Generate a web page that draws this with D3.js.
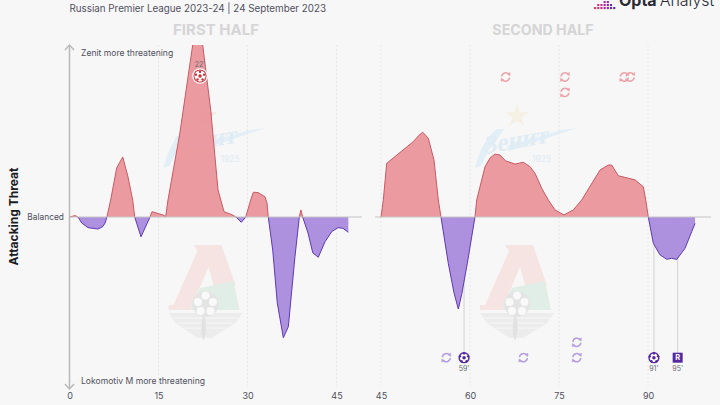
<!DOCTYPE html>
<html>
<head>
<meta charset="utf-8">
<script src="https://cdn.jsdelivr.net/npm/d3@7/dist/d3.min.js"></script>
<style>
  html, body { margin: 0; padding: 0; background: #f7f7f7; overflow: hidden; }
  text { font-family: "Inter", "Roboto", sans-serif; }
</style>
</head>
<body>
<svg width="720" height="405"></svg>
<script>
// Values. Threat: 0 is balanced, +/-100 is the edge of the plot
const firstMinutes = [0, 0.93, 1.43, 2.06, 3.12, 4.8, 5.6, 6.0, 6.3, 6.94, 7.95, 8.97, 9.86, 10.65, 10.99, 12.05, 13.57, 13.9, 15.93, 16.2, 16.6, 18.6, 20.76, 21.6, 22.45, 23.8, 25.03, 26.04, 27.39, 28.06, 28.96, 29.7, 30.54, 30.98, 31.77, 32.95, 33.29, 33.5, 34.25, 35.02, 36.04, 36.88, 38.0, 38.73, 39.0, 39.3, 40.2, 41.0, 41.93, 43.06, 44.2, 45.25, 46.1, 47.0];
const firstThreat = [0, 0.8, 0, -3.5, -6.2, -7, -5.6, -3.5, 0, 9.9, 28.5, 34.9, 23.3, 9.9, 0, -11.5, 0, 3.1, 1, 0, 9.9, 48.8, 100, 112, 100, 62.2, 15.7, 3.1, 1.3, 0, -3.1, 0, 9.9, 14.4, 14.2, 11.8, 8.1, 0, -19.2, -50, -70.2, -63.8, -23.1, 0, 4.1, 0, -9.3, -20.8, -23.4, -14.4, -8.5, -6.2, -6.6, -8.9];
const secondMinutes = [45, 45.39, 45.96, 50.44, 51.4, 52.03, 52.97, 53.93, 54.66, 55.11, 56.34, 57.3, 58.03, 58.6, 59.55, 60.84, 61.13, 62.53, 63.4, 64.21, 65.06, 66.02, 67.59, 68.99, 70.1, 70.96, 72.09, 73.2, 74.33, 75.84, 77.41, 78.83, 81.91, 83.31, 83.88, 84.99, 87.81, 89.21, 89.62, 90.05, 90.9, 92.02, 93.15, 93.99, 94.84, 96.24, 97.37, 97.93];
const secondThreat = [0, 9.9, 31.2, 43.8, 47.5, 49.3, 45.8, 33.1, 9.9, 0, -26.9, -44, -53.5, -45, -26.9, 0, 9.9, 29.2, 34.4, 36.6, 36, 32.6, 30.8, 31.8, 29.3, 25.4, 16.7, 9.9, 4.1, 1.2, 4.1, 9.9, 27.3, 30.2, 30.2, 24, 21.6, 17.6, 9.9, 0, -15.3, -22, -24.6, -24, -24.7, -18.2, -8.5, -3.7];

const firstTicks = [0, 15, 30, 45];
const secondTicks = [45, 60, 75, 90];

const zenitGoals = [22];
const lokoGoals = [59, 91];
const lokoReds = [95];
// [minute, row in the stack]
const zenitSubs = [[66, 0], [76, 0], [76, 1], [86, 0], [87, 0]];
const lokoSubs = [[56, 0], [69, 0], [78, 0], [78, 1]];

const RED = "#ea969c", RED_LINE = "#c85a64", RED_ICON = "#eba3a9", RED_BALL = "#c8323e";
const PURPLE = "#ab8ddd", PURPLE_LINE = "#5e39b4", PURPLE_ICON = "#b49ee0", PURPLE_DARK = "#55289f";
const TEXT = "#50505c";

const svg = d3.select("svg");
const y = d3.scaleLinear().domain([-100, 100]).range([389, 45]);
const xFirst = d3.scaleLinear().domain([0, 45]).range([69.5, 336.5]);
const xSecond = d3.scaleLinear().domain([45, 90]).range([381, 648]);
const baseY = y(0);

svg.append("rect").attr("width", 720).attr("height", 405).attr("fill", "#f7f7f7");

// Clips so each side of the balanced line gets its own colour
const defs = svg.append("defs");
defs.append("clipPath").attr("id", "above").append("rect")
  .attr("x", 0).attr("y", y(100)).attr("width", 720).attr("height", baseY - y(100));
defs.append("clipPath").attr("id", "below").append("rect")
  .attr("x", 0).attr("y", baseY).attr("width", 720).attr("height", y(-100) - baseY);

// --- watermarks ---
function zenitLogo(cx, starColor) {
  const g = svg.append("g").attr("transform", "translate(" + cx + ",0)");
  const star = d3.symbol().type(d3.symbolStar).size(170)();
  g.append("path").attr("d", star).attr("transform", "translate(0,116)").attr("fill", starColor);
  // swoosh and the tail of the script
  g.append("path")
    .attr("d", "M-42,168 C-38,152 -32,138 -20,129 L-12,129 C-22,140 -30,152 -36,166 Z M-8,151 L60,128 L44,130 L-10,146 Z")
    .attr("fill", "#e3eff6");
  g.append("text").attr("transform", "translate(-33,154) rotate(-10) skewX(-14)")
    .attr("font-size", 25).attr("font-weight", 700)
    .style("font-family", '"Liberation Serif", serif')
    .attr("fill", "#dfecf5").text("Зенит");
  g.append("text").attr("x", 15).attr("y", 162).attr("font-size", 8.5).attr("fill", "#dfeaf1").text("1925");
}

function lokoLogo(cx) {
  const g = svg.append("g").attr("transform", "translate(" + cx + ",245)");
  // red letter
  g.append("path").attr("d", "M-12,0 H16 L30,40 L8,40 L3,22 L-14,62 V65 H-37 V60 H-32 L-8,6 Z").attr("fill", "#f5e4e2");
  // green block
  g.append("path").attr("d", "M-14,58 L-5,43 L28,36 L34,65 H-14 Z").attr("fill", "#e0eee7");
  // wings
  g.append("path").attr("d", "M-37,68 H37 L30,78 L6,93 H-8 L-30,78 Z").attr("fill", "#ececec");
  [73, 78, 83].forEach(function(wy, i) {
    g.append("path").attr("d", "M" + (-33 + i * 6) + "," + wy + " H" + (33 - i * 6))
      .attr("stroke", "#f7f7f7").attr("stroke-width", 1);
  });
  g.append("path").attr("d", "M-2,68 C-5,80 -5,90 -2,96 C1,88 2,78 -2,68 Z").attr("fill", "#e2e2e2");
  // ball
  g.append("circle").attr("cx", 0).attr("cy", 59).attr("r", 13).attr("fill", "#e4e4e4");
  [[0, 50.5], [-7.5, 57], [7.5, 57], [-5, 66], [5, 66]].forEach(function(p) {
    g.append("circle").attr("cx", p[0]).attr("cy", p[1]).attr("r", 4).attr("fill", "#f9f9f9");
  });
}

zenitLogo(205.5, "#f6e6dc");
zenitLogo(517, "#f4f0e3");
lokoLogo(205.5);
lokoLogo(517);

// --- headers ---
svg.append("text").attr("x", 69.5).attr("y", 12).attr("font-size", 9.8).attr("fill", TEXT)
  .text("Russian Premier League 2023-24 | 24 September 2023");
svg.append("text").attr("x", 216).attr("y", 35).attr("text-anchor", "middle")
  .attr("font-size", 15).attr("font-weight", 700).attr("fill", "#d5d5d6").text("FIRST HALF");
svg.append("text").attr("x", 543).attr("y", 35).attr("text-anchor", "middle")
  .attr("font-size", 14.2).attr("font-weight", 700).attr("fill", "#d5d5d6").text("SECOND HALF");

// Opta mark, cut by the top of the frame as in the original
const dotColors = ["#e8385a", "#d93070", "#c22c8a", "#a52a9c", "#8a2aa8", "#6c2aaa", "#5a25a0"];
[[0, 3, 5], [1, 1, 6], [2, 0, 7]].forEach(function(row) {
  for (let i = row[1]; i < row[2]; i++) {
    svg.append("rect").attr("x", 594 + i * 3.2).attr("y", 1 + row[0] * 3)
      .attr("width", 2.1).attr("height", 2.1).attr("fill", dotColors[i]);
  }
});
const brand = svg.append("text").attr("x", 619).attr("y", 5.5).attr("font-size", 16).attr("fill", "#2a2a34");
brand.append("tspan").attr("font-weight", 700).text("Opta");
brand.append("tspan").attr("font-weight", 300).attr("dx", 3).text("Analyst");

// --- axis furniture ---
svg.append("text").attr("transform", "translate(18,216.5) rotate(-90)").attr("text-anchor", "middle")
  .attr("font-size", 12).attr("font-weight", 700).attr("fill", "#1c1c22").text("Attacking Threat");
svg.append("text").attr("x", 64).attr("y", 220).attr("text-anchor", "end")
  .attr("font-size", 8.4).attr("fill", TEXT).text("Balanced");
svg.append("text").attr("x", 81).attr("y", 56).attr("font-size", 8.6).attr("fill", TEXT)
  .text("Zenit more threatening");
svg.append("text").attr("x", 81).attr("y", 384).attr("font-size", 8.6).attr("fill", TEXT)
  .text("Lokomotiv M more threatening");

function drawHalf(x, minutes, threat, ticks, lineStart, lineEnd) {
  const rows = minutes.map(function(m, i) { return { m: m, v: threat[i] }; });

  // dotted minute guides
  svg.append("g").selectAll("line").data(ticks).join("line")
    .attr("x1", x).attr("x2", x).attr("y1", 45).attr("y2", 386)
    .attr("stroke", "#e2e2e2").attr("stroke-dasharray", "1.5,2.5");

  const axis = svg.append("g").attr("transform", "translate(0,392.5)")
    .call(d3.axisBottom(x).tickValues(ticks).tickSize(0).tickPadding(0).tickFormat(d3.format("d")));
  axis.select(".domain").remove();
  axis.selectAll("text").attr("font-size", 9).attr("fill", TEXT)
    .style("font-family", '"Inter", "Roboto", sans-serif');

  return { rows: rows, x: x, lineStart: lineStart, lineEnd: lineEnd };
}

function drawCurves(half) {
  const area = d3.area().x(function(d) { return half.x(d.m); }).y0(baseY)
    .y1(function(d) { return y(d.v); });
  const line = d3.line().x(function(d) { return half.x(d.m); })
    .y(function(d) { return y(d.v); });

  [["above", RED, RED_LINE], ["below", PURPLE, PURPLE_LINE]].forEach(function(s) {
    const g = svg.append("g").attr("clip-path", "url(#" + s[0] + ")");
    g.append("path").datum(half.rows).attr("d", area).attr("fill", s[1]).attr("fill-opacity", 0.96);
    g.append("path").datum(half.rows).attr("d", line).attr("fill", "none")
      .attr("stroke", s[2]).attr("stroke-width", 1);
  });

  svg.append("line").attr("x1", half.lineStart).attr("x2", half.lineEnd)
    .attr("y1", baseY).attr("y2", baseY).attr("stroke", "#c4c4c4").attr("stroke-width", 1);
}

// --- event icons ---
function subIcon(cx, cy, color) {
  const g = svg.append("g").attr("transform", "translate(" + cx + "," + cy + ")")
    .attr("fill", "none").attr("stroke", color).attr("stroke-width", 1.5);
  g.append("path").attr("d", "M-4,-0.5 A4.2,4.2 0 0 1 3.4,-2.6");
  g.append("path").attr("d", "M4,0.5 A4.2,4.2 0 0 1 -3.4,2.6");
  g.append("path").attr("d", "M1.6,-3 L4.4,-1.2 L4.6,-4.4 Z").attr("fill", color).attr("stroke-width", 0.5);
  g.append("path").attr("d", "M-1.6,3 L-4.4,1.2 L-4.6,4.4 Z").attr("fill", color).attr("stroke-width", 0.5);
}

function ballIcon(cx, cy, color, ring) {
  const g = svg.append("g").attr("transform", "translate(" + cx + "," + cy + ")");
  if (ring) g.append("circle").attr("r", 7.2).attr("fill", color).attr("stroke", "#fff").attr("stroke-width", 1.3);
  g.append("circle").attr("r", 5.6).attr("fill", ring ? "#fff" : color);
  g.append("circle").attr("r", 4.2).attr("fill", "#fff");
  g.append("path").attr("d", d3.symbol().type(d3.symbolCircle).size(10)()).attr("fill", color);
  d3.range(5).forEach(function(i) {
    const a = -Math.PI / 2 + i * 2 * Math.PI / 5;
    g.append("circle").attr("cx", 4.3 * Math.cos(a)).attr("cy", 4.3 * Math.sin(a)).attr("r", 1.2).attr("fill", color);
  });
}

function redIcon(cx, cy, color) {
  svg.append("rect").attr("x", cx - 5).attr("y", cy - 5).attr("width", 10).attr("height", 10).attr("fill", color);
  svg.append("text").attr("x", cx).attr("y", cy + 2.7).attr("text-anchor", "middle")
    .attr("font-size", 7.5).attr("font-weight", 700).attr("fill", "#fff").text("R");
}

function eventLabel(cx, cy, minute) {
  svg.append("text").attr("x", cx).attr("y", cy).attr("text-anchor", "middle")
    .attr("font-size", 7).attr("fill", "#6a6a72").text(minute + "'");
}

const ZENIT_ROW = 77, LOKO_ROW = 357.7, ROW_GAP = 15.4;

const first = drawHalf(xFirst, firstMinutes, firstThreat, firstTicks.slice(), 69.5, 362);
const second = drawHalf(xSecond, secondMinutes, secondThreat, secondTicks, 375, 711);

// drop lines go under the areas, so they seem to start at the curve
lokoGoals.concat(lokoReds).forEach(function(m) {
  svg.append("line").attr("x1", xSecond(m)).attr("x2", xSecond(m)).attr("y1", baseY).attr("y2", LOKO_ROW)
    .attr("stroke", "#d2d2d4").attr("stroke-width", 1);
});

drawCurves(first);
drawCurves(second);

// arrow on the threat axis
const arrow = svg.append("g").attr("fill", "none").attr("stroke", "#b9b9b9").attr("stroke-width", 1.5);
arrow.append("line").attr("x1", xFirst(0)).attr("x2", xFirst(0)).attr("y1", y(100)).attr("y2", 389);
arrow.append("path").attr("d", "M65,50 L69.5,45 L74,50");
arrow.append("path").attr("d", "M65,384 L69.5,389 L74,384");

zenitGoals.forEach(function(m) {
  ballIcon(xFirst(m), 76, RED_BALL, true);
  eventLabel(xFirst(m), 67, m);
});
zenitSubs.forEach(function(s) { subIcon(xSecond(s[0]), ZENIT_ROW + s[1] * ROW_GAP, RED_ICON); });
lokoSubs.forEach(function(s) { subIcon(xSecond(s[0]), LOKO_ROW - s[1] * ROW_GAP, PURPLE_ICON); });
lokoGoals.forEach(function(m) {
  ballIcon(xSecond(m), LOKO_ROW, PURPLE_DARK, false);
  eventLabel(xSecond(m), 371, m);
});
lokoReds.forEach(function(m) {
  redIcon(xSecond(m), LOKO_ROW, PURPLE_DARK);
  eventLabel(xSecond(m), 371, m);
});
</script>
</body>
</html>
